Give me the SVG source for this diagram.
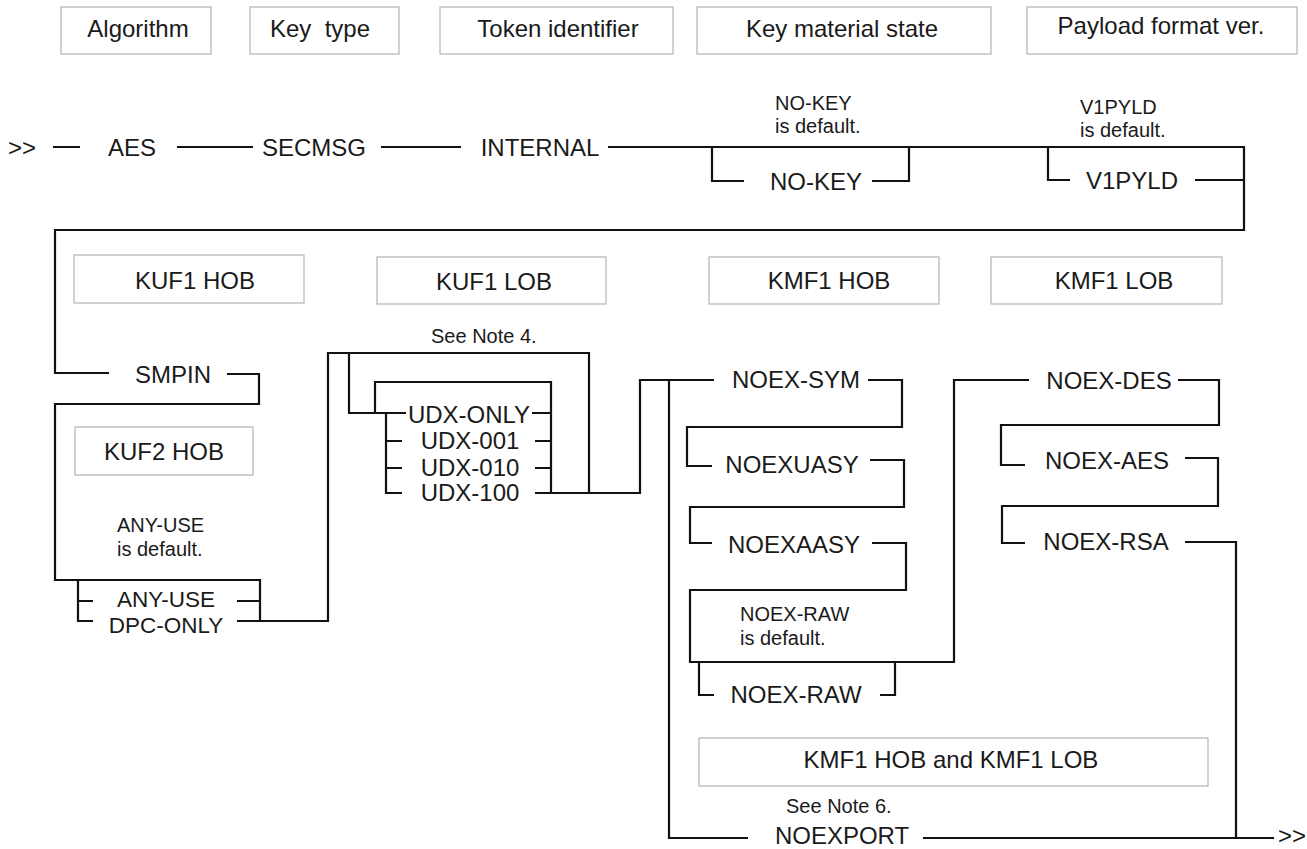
<svg xmlns="http://www.w3.org/2000/svg" width="1307" height="849" viewBox="0 0 1307 849">
<style>
.bg{fill:#ffffff}
.box{fill:#ffffff;stroke:#b4b4b4;stroke-width:1.2}
.t{font-family:"Liberation Sans",Arial,sans-serif;font-size:24px;fill:#1a1a1a}
.u{font-family:"Liberation Sans",Arial,sans-serif;font-size:22.5px;fill:#1a1a1a}
.s{font-family:"Liberation Sans",Arial,sans-serif;font-size:20px;fill:#1a1a1a}
.m{text-anchor:middle}
.c{fill:none;stroke:#111111;stroke-width:2.2;stroke-linejoin:miter;stroke-linecap:butt}
</style>
<rect class="bg" x="0" y="0" width="1307" height="849"/>

<g id="hdr-algorithm"><rect class="box" x="61" y="7" width="150" height="47"/><text class="t m" x="138" y="37">Algorithm</text></g>
<g id="hdr-keytype"><rect class="box" x="250" y="7" width="149" height="47"/><text class="t m" x="320" y="37" xml:space="preserve">Key  type</text></g>
<g id="hdr-token"><rect class="box" x="440" y="7" width="233" height="47"/><text class="t m" x="558" y="37">Token identifier</text></g>
<g id="hdr-keymat"><rect class="box" x="697" y="7" width="294" height="47"/><text class="t m" x="842" y="37">Key material state</text></g>
<g id="hdr-payload"><rect class="box" x="1027" y="7" width="270" height="47"/><text class="t m" x="1161" y="34">Payload format ver.</text></g>

<g id="start"><text class="t" x="8" y="156">&gt;&gt;</text></g>
<g id="aes"><text class="t m" x="132" y="156">AES</text></g>
<g id="secmsg"><text class="t m" x="314" y="156">SECMSG</text></g>
<g id="internal"><text class="t m" x="540" y="156">INTERNAL</text></g>

<g id="nokey-note"><text class="s" x="775" y="110">NO-KEY</text><text class="s" x="775" y="133">is default.</text></g>
<g id="nokey"><text class="t m" x="816" y="190">NO-KEY</text></g>
<g id="v1pyld-note"><text class="s" x="1080" y="114">V1PYLD</text><text class="s" x="1080" y="137">is default.</text></g>
<g id="v1pyld"><text class="t m" x="1132" y="189">V1PYLD</text></g>

<g id="hdr-kuf1hob"><rect class="box" x="74" y="255" width="230" height="48"/><text class="t m" x="195" y="289">KUF1 HOB</text></g>
<g id="hdr-kuf1lob"><rect class="box" x="377" y="257" width="229" height="47"/><text class="t m" x="494" y="290">KUF1 LOB</text></g>
<g id="hdr-kmf1hob"><rect class="box" x="709" y="257" width="230" height="47"/><text class="t m" x="829" y="289">KMF1 HOB</text></g>
<g id="hdr-kmf1lob"><rect class="box" x="991" y="257" width="231" height="47"/><text class="t m" x="1114" y="289">KMF1 LOB</text></g>

<g id="smpin"><text class="t m" x="173" y="383">SMPIN</text></g>
<g id="hdr-kuf2hob"><rect class="box" x="75" y="427" width="178" height="48"/><text class="t m" x="164" y="460">KUF2 HOB</text></g>
<g id="anyuse-note"><text class="s" x="117" y="532">ANY-USE</text><text class="s" x="117" y="556">is default.</text></g>
<g id="anyuse"><text class="u m" x="166" y="607">ANY-USE</text></g>
<g id="dpconly"><text class="u m" x="166" y="633">DPC-ONLY</text></g>

<g id="note4"><text class="s" x="431" y="343">See Note 4.</text></g>
<g id="udxonly"><text class="t m" x="469" y="423">UDX-ONLY</text></g>
<g id="udx001"><text class="t m" x="470" y="449">UDX-001</text></g>
<g id="udx010"><text class="t m" x="470" y="476">UDX-010</text></g>
<g id="udx100"><text class="t m" x="470" y="501">UDX-100</text></g>

<g id="noexsym"><text class="t m" x="796" y="388">NOEX-SYM</text></g>
<g id="noexuasy"><text class="t m" x="792" y="473">NOEXUASY</text></g>
<g id="noexaasy"><text class="t m" x="794" y="553">NOEXAASY</text></g>
<g id="noexraw-note"><text class="s" x="740" y="621">NOEX-RAW</text><text class="s" x="740" y="645">is default.</text></g>
<g id="noexraw"><text class="t m" x="796" y="703">NOEX-RAW</text></g>
<g id="noexdes"><text class="t m" x="1109" y="389">NOEX-DES</text></g>
<g id="noexaes"><text class="t m" x="1107" y="469">NOEX-AES</text></g>
<g id="noexrsa"><text class="t m" x="1106" y="550">NOEX-RSA</text></g>
<g id="hdr-kmf1both"><rect class="box" x="699" y="738" width="509" height="48"/><text class="t m" x="951" y="768">KMF1 HOB and KMF1 LOB</text></g>
<g id="note6"><text class="s" x="786" y="813">See Note 6.</text></g>
<g id="noexport"><text class="t m" x="842" y="844">NOEXPORT</text></g>
<g id="end"><text class="t" x="1278" y="844">&gt;&gt;</text></g>

<g id="connectors" class="c">
<path class="c" d="M53,147 H80 M177,147 H253 M381,147 H461 M608,147 H1244 V230 H55 V373 H109"/>
<path class="c" d="M712,147 V181 H744 M872,181 H909 V147"/>
<path class="c" d="M1048,147 V180 H1070 M1195,180 H1244"/>
<path class="c" d="M227,374 H259 V404 H55 V580 H260 V621 M78,580 V621 H93 M78,601 H93 M237,601 H260 M237,621 H328 V353 H589 V493"/>
<path class="c" d="M349,353 V413 H406 M375,413 V382 H551 V493 M386,413 V493 H402 M386,441 H402 M386,468 H402 M532,413 H551 M535,441 H551 M535,468 H551 M535,493 H640 V380 H714"/>
<path class="c" d="M669,380 V838 H748 M868,380 H902 V427 H687 V466 H712 M870,460 H904 V507 H690 V543 H712 M872,543 H906 V590 H690 V662 H954 V380 H1029 M699,662 V695 H714 M880,695 H895 V662"/>
<path class="c" d="M1178,380 H1219 V425 H1001 V465 H1025 M1185,458 H1218 V506 H1002 V543 H1025 M1185,542 H1236 V838 M923,838 H1274"/>
</g>
</svg>
